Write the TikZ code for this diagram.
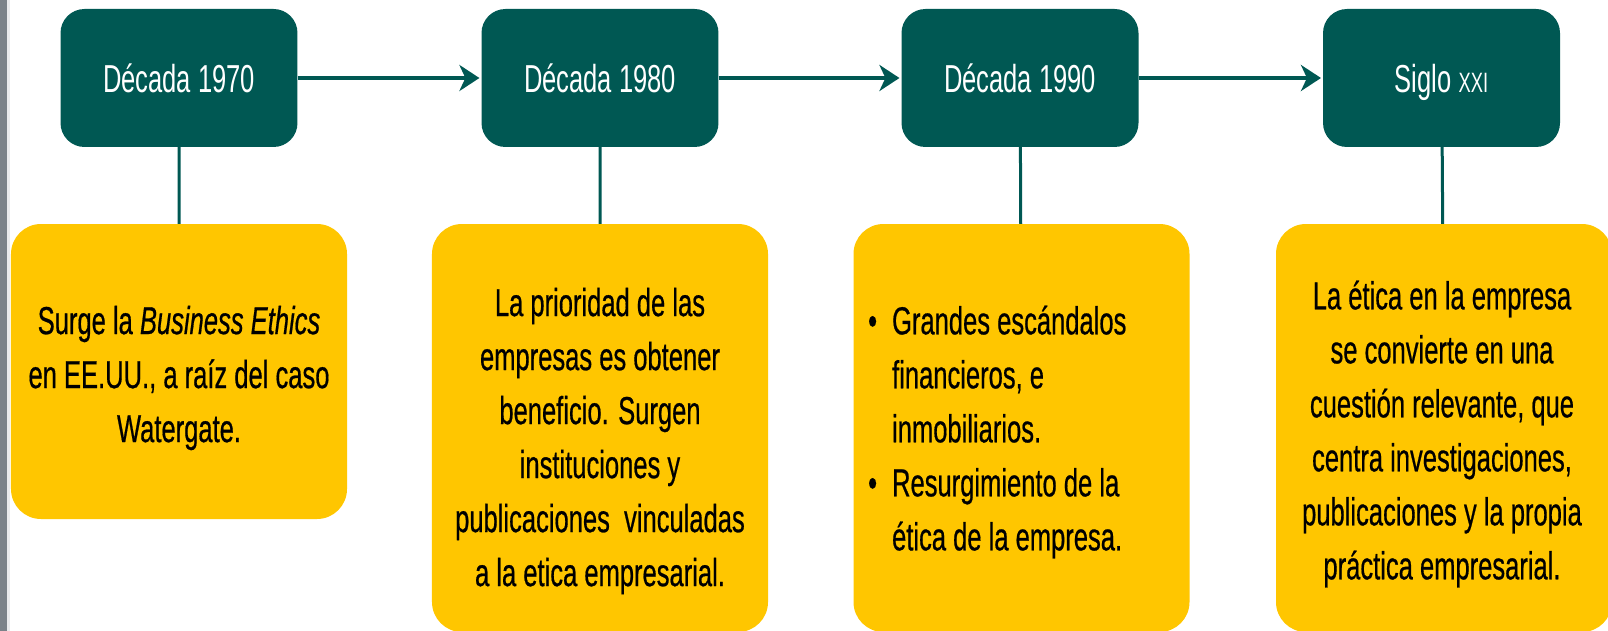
\documentclass[tikz,border=0pt]{standalone}
\usepackage{fontspec}
\setmainfont{Liberation Sans}
\newfontfamily\gfont{Liberation Sans}[FakeBold=0.7]
\usetikzlibrary{arrows.meta}
\definecolor{teal1}{RGB}{0,88,83}
\definecolor{gold1}{RGB}{255,198,0}
\definecolor{strip}{RGB}{122,130,137}
\definecolor{stripl}{RGB}{232,234,236}
\begin{document}
\begin{tikzpicture}[x=1.526718pt, y=-1pt, xscale=0.655, transform shape,
  darkbox/.style={rectangle, rounded corners=24pt, fill=teal1, text=white,
    minimum width=361.8pt, minimum height=138pt, inner sep=0pt,
    font=\fontsize{39}{47}\selectfont, text height=38pt, text depth=8pt},
  goldbox/.style={rectangle, rounded corners=30pt, fill=gold1,
    minimum width=513pt, inner sep=0pt},
  boxtext/.style={align=center, inner sep=0pt, font=\gfont\fontsize{39}{54}\selectfont},
  link/.style={teal1, line width=3pt},
  flow/.style={teal1, line width=4pt, -{Stealth[length=20pt,width=26pt,inset=6pt]}, shorten >=2pt}]
\useasboundingbox (0,0) rectangle (1608,631);
\fill[strip] (0,0) rectangle (7,631);
\fill[stripl] (7,0) rectangle (10,631);
% top boxes
\node[darkbox] (d1) at (179,78) {Década 1970};
\node[darkbox] (d2) at (600,78) {Década 1980};
\node[darkbox] (d3) at (1020,78) {Década 1990};
\node[darkbox] (d4) at (1441.5,78) {Siglo {\fontsize{28}{28}\selectfont XXI}};
% yellow boxes
\node[goldbox, minimum height=295pt] (g1) at (179,371.5) {};
\node[goldbox, minimum height=408pt] (g2) at (600,428) {};
\node[goldbox, minimum height=408pt] (g3) at (1021.5,428) {};
\node[goldbox, minimum height=408pt] (g4) at (1444,428) {};
% texts
\node[boxtext] (t1) at (179,378) {Surge la \textit{Business Ethics}\\en EE.UU., a raíz del caso\\Watergate.};
\node[boxtext] (t2) at (600,441) {La prioridad de las\\empresas es obtener\\beneficio. Surgen\\instituciones y\\publicaciones\ \ vinculadas\\a la etica empresarial.};
\node[boxtext, align=left, anchor=west] (t3) at (868,432) {\makebox[36.6pt][l]{\textbullet}Grandes escándalos\\\hspace*{36.6pt}financieros, e\\\hspace*{36.6pt}inmobiliarios.\\\makebox[36.6pt][l]{\textbullet}Resurgimiento de la\\\hspace*{36.6pt}ética de la empresa.};
\node[boxtext] (t4) at (1442,434) {La ética en la empresa\\se convierte en una\\cuestión relevante, que\\centra investigaciones,\\publicaciones y la propia\\práctica empresarial.};
% connectors
\draw[flow] (d1) -- (d2);
\draw[flow] (d2) -- (d3);
\draw[flow] (d3) -- (d4);
\draw[link] (d1) -- (g1);
\draw[link] (d2) -- (g2);
\draw[link] (d3) -- (g3);
\draw[link] (d4) -- (g4);
\end{tikzpicture}
\end{document}
